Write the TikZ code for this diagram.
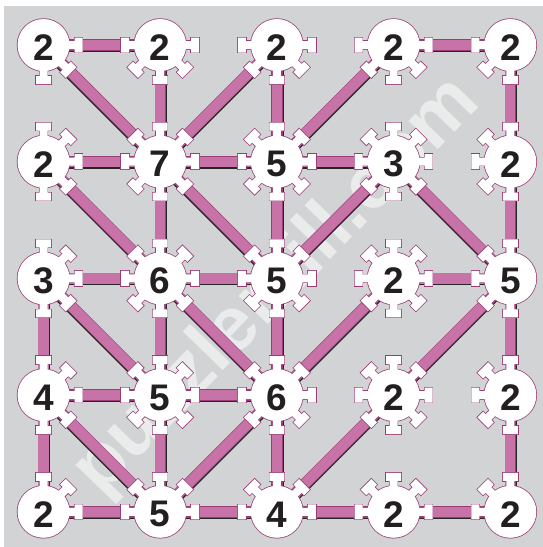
\documentclass[tikz,border=0pt]{standalone}
\usepackage{fontspec}
\setmainfont{Liberation Sans}
\usepackage{tikz}
\usetikzlibrary{calc}
\definecolor{boardgrey}{HTML}{D1D3D4}
\definecolor{bridgepink}{HTML}{C773A7}
\definecolor{cogline}{HTML}{9A3D77}
\definecolor{digitblack}{HTML}{231F20}

\begin{document}
\begin{tikzpicture}[x=1pt,y=-1pt,
  barshadow/.style={line width=11pt,draw=black!85},
  rim/.style={line width=11.4pt,draw=cogline},
  bridge/.style={line width=10.2pt,draw=bridgepink},
  cogedge/.style={draw=cogline,fill=cogline,line width=1.5pt},
  cogface/.style={fill=white},
  clue/.style={font=\bfseries\fontsize{37}{37}\selectfont,text=digitblack,inner sep=0pt}]
  \useasboundingbox (0,0) rectangle (543,547);
  \fill[boardgrey] (4,6) rectangle (543,547);
  \foreach \c in {0,...,4}
    \foreach \r in {0,...,4}
      \coordinate (g\c\r) at ({43.5+116.7*\c},{45+116.7*\r});
  \node[rotate=46,text=white,opacity=0.55,font=\bfseries\fontsize{77}{77}\selectfont]
    (mark) at (277,287) {puzzlemill.com};
  % bridges: left to right, bottom to top, then the two diagonals
  \foreach \a/\b in {00/10,30/40,01/11,11/21,21/31,02/12,12/22,32/42,03/13,13/23,04/14,14/24,24/34,34/44,
                     11/10,21/20,41/40,12/11,22/21,42/41,03/02,13/12,23/22,43/42,04/03,14/13,24/23,44/43,
                     00/11,01/12,11/22,31/42,02/13,12/23,03/14,
                     11/20,21/30,22/31,23/32,33/42,24/33,14/23} {
    \draw[barshadow] ($(g\a)!1.4pt!-90:(g\b)$) -- ($(g\b)!1.4pt!90:(g\a)$);
    \draw[rim] (g\a) -- (g\b);
    \draw[bridge] (g\a) -- (g\b);
  }
  % islands
  \foreach \pass in {cogedge,cogface}
    \foreach \c in {0,...,4}
      \foreach \r in {0,...,4} {
        \path[\pass] (g\c\r) circle (26pt);
        \foreach \a/\dx/\dy in {0/1/0,45/1/-1,90/0/-1,135/-1/-1,180/-1/0,225/-1/1,270/0/1,315/1/1} {
          \pgfmathtruncatemacro\ok{and(and(\c+\dx>-1,\c+\dx<5),and(\r+\dy>-1,\r+\dy<5))}
          \ifnum\ok=1
            \path[\pass,shift={(g\c\r)},rotate=\a] (20,-4) rectangle (31,4) (31,-7.5) rectangle (39,7.5);
          \fi
        }
      }
  \foreach \c/\r/\n in {0/0/2,1/0/2,2/0/2,3/0/2,4/0/2,
                        0/1/2,1/1/7,2/1/5,3/1/3,4/1/2,
                        0/2/3,1/2/6,2/2/5,3/2/2,4/2/5,
                        0/3/4,1/3/5,2/3/6,3/3/2,4/3/2,
                        0/4/2,1/4/5,2/4/4,3/4/2,4/4/2}
    \node[clue] (n\c\r) at ([yshift=-2.5pt]g\c\r) {\n};
\end{tikzpicture}
\end{document}
